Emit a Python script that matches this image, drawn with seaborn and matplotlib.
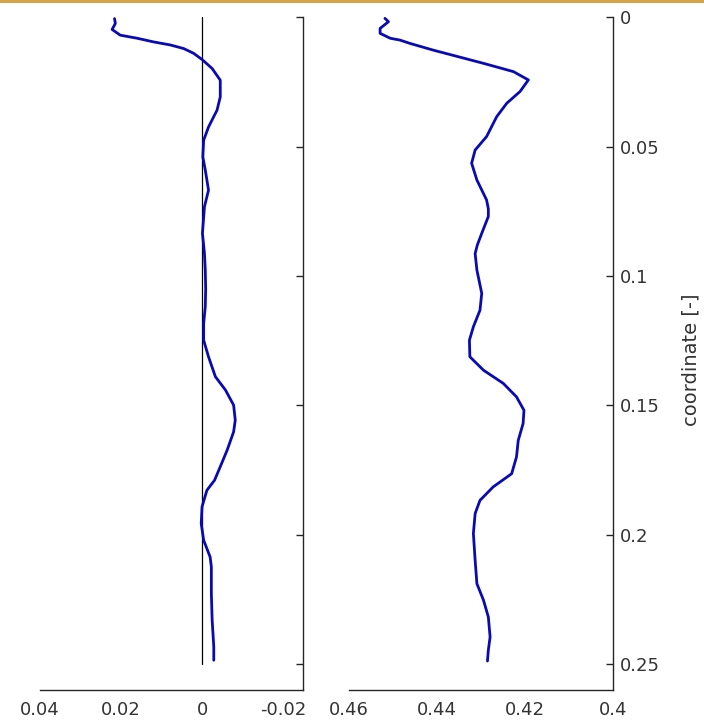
import numpy as np
import pandas as pd
import matplotlib
matplotlib.use("Agg")
import matplotlib.pyplot as plt
import seaborn as sns
from matplotlib.patches import Rectangle

# ---- data ----
left_coord = [0.0005, 0.0024, 0.0047, 0.0069, 0.0081, 0.0095, 0.0107, 0.0121, 0.0139, 0.0163,
              0.0198, 0.0243, 0.0308, 0.0359, 0.0424, 0.0475, 0.0540, 0.0590, 0.0668,
              0.0732, 0.0835, 0.0913, 0.0977, 0.1050, 0.1119, 0.1184, 0.1248, 0.1312,
              0.1389, 0.1441, 0.1499, 0.1557, 0.1602, 0.1673, 0.1737, 0.1789, 0.1828,
              0.1892, 0.1957, 0.2021, 0.2086, 0.2124, 0.2227, 0.2330, 0.2433, 0.2485]
left_value = [0.0216, 0.0214, 0.0222, 0.0202, 0.0160, 0.0120, 0.0078, 0.0045, 0.0021, 0.0000,
              -0.0025, -0.0045, -0.0045, -0.0037, -0.0016, -0.0004, -0.0002, -0.0008, -0.0016,
              -0.0006, -0.0001, -0.0006, -0.0008, -0.0009, -0.0008, -0.0004, -0.0004, -0.0016,
              -0.0033, -0.0058, -0.0078, -0.0082, -0.0078, -0.0062, -0.0045, -0.0031, -0.0012,
              0.0000, 0.0002, -0.0004, -0.0020, -0.0023, -0.0023, -0.0025, -0.0029, -0.0029]

right_coord = [0.0004, 0.0017, 0.0043, 0.0062, 0.0081, 0.0088, 0.0101, 0.0127, 0.0178,
               0.0210, 0.0242, 0.0287, 0.0332, 0.0384, 0.0461, 0.0513, 0.0564, 0.0629,
               0.0706, 0.0740, 0.0770, 0.0835, 0.0880, 0.0913, 0.0977, 0.1067, 0.1132,
               0.1196, 0.1248, 0.1312, 0.1364, 0.1415, 0.1467, 0.1519, 0.1570, 0.1635,
               0.1699, 0.1764, 0.1815, 0.1867, 0.1918, 0.1995, 0.2099, 0.2189, 0.2253,
               0.2318, 0.2395, 0.2446, 0.2488]
right_value = [0.4519, 0.4511, 0.4530, 0.4530, 0.4507, 0.4485, 0.4462, 0.4409, 0.4295,
               0.4227, 0.4193, 0.4212, 0.4242, 0.4265, 0.4288, 0.4314, 0.4322, 0.4310,
               0.4288, 0.4284, 0.4284, 0.4299, 0.4309, 0.4314, 0.4310, 0.4299, 0.4303,
               0.4318, 0.4327, 0.4326, 0.4295, 0.4250, 0.4220, 0.4203, 0.4205, 0.4216,
               0.4220, 0.4231, 0.4273, 0.4303, 0.4314, 0.4318, 0.4314, 0.4310, 0.4295,
               0.4284, 0.4280, 0.4284, 0.4286]

zero_line_x = [0.0, 0.0]
zero_line_y = [0.0, 0.25]

left_xticks = [0.04, 0.02, 0.0, -0.02]
left_xticklabels = ["0.04", "0.02", "0", "-0.02"]
right_xticks = [0.46, 0.44, 0.42, 0.40]
right_xticklabels = ["0.46", "0.44", "0.42", "0.4"]
yticks = [0.0, 0.05, 0.1, 0.15, 0.2, 0.25]
yticklabels = ["0", "0.05", "0.1", "0.15", "0.2", "0.25"]
ylabel = "coordinate [-]"

# ---- style ----
sns.set_style("white")
plt.rcParams["font.family"] = ["DejaVu Sans"]

LINE_COLOR = "#0a0ab4"
AX_COLOR = "#262626"
TXT_COLOR = "#333333"

fig = plt.figure(figsize=(7.04, 7.24), dpi=100)
fig.patch.set_facecolor("white")
ax1 = fig.add_axes([40 / 704, 34 / 724, 263.3 / 704, 672.7 / 724])
ax2 = fig.add_axes([349.3 / 704, 34 / 724, 264 / 704, 672.7 / 724])

df_left = pd.DataFrame({"value": left_value, "coord": left_coord})
df_right = pd.DataFrame({"value": right_value, "coord": right_coord})
df_zero = pd.DataFrame({"value": zero_line_x, "coord": zero_line_y})

sns.lineplot(data=df_zero, x="value", y="coord", sort=False, estimator=None,
             color="black", linewidth=0.9, ax=ax1)
sns.lineplot(data=df_left, x="value", y="coord", sort=False, estimator=None,
             color=LINE_COLOR, linewidth=2.0, ax=ax1)
sns.lineplot(data=df_right, x="value", y="coord", sort=False, estimator=None,
             color=LINE_COLOR, linewidth=2.0, ax=ax2)

ax1.set_xlim(0.04, -0.025)
ax2.set_xlim(0.46, 0.40)

for ax, xt, xl in [(ax1, left_xticks, left_xticklabels), (ax2, right_xticks, right_xticklabels)]:
    ax.set_ylim(0.26, 0.0)
    ax.set_facecolor("white")
    ax.set_xticks(xt)
    ax.set_xticklabels(xl)
    ax.set_yticks(yticks)
    ax.set_xlabel("")
    ax.set_ylabel("")
    for s in ["top", "left"]:
        ax.spines[s].set_visible(False)
    for s in ["right", "bottom"]:
        ax.spines[s].set_visible(True)
        ax.spines[s].set_color(AX_COLOR)
        ax.spines[s].set_linewidth(1.0)
    ax.yaxis.tick_right()
    ax.tick_params(axis="both", direction="in", length=5, width=1.0, color=AX_COLOR,
                   labelsize=13, labelcolor=TXT_COLOR)
    ax.tick_params(axis="x", pad=8)
    ax.tick_params(axis="y", pad=5)

ax1.set_yticklabels([])
ax2.set_yticklabels(yticklabels)
ax2.yaxis.set_label_position("right")
ax2.set_ylabel(ylabel, fontsize=14, color=TXT_COLOR)
ax2.yaxis.set_label_coords(1.259, 0.4906)

# thin decorative band at the very top of the image
fig.patches.append(Rectangle((0, 1 - 2.5 / 724), 1, 2.5 / 724, transform=fig.transFigure,
                             facecolor="#d4a448", edgecolor="none"))

fig.savefig("out.png", dpi=100, facecolor="white")
